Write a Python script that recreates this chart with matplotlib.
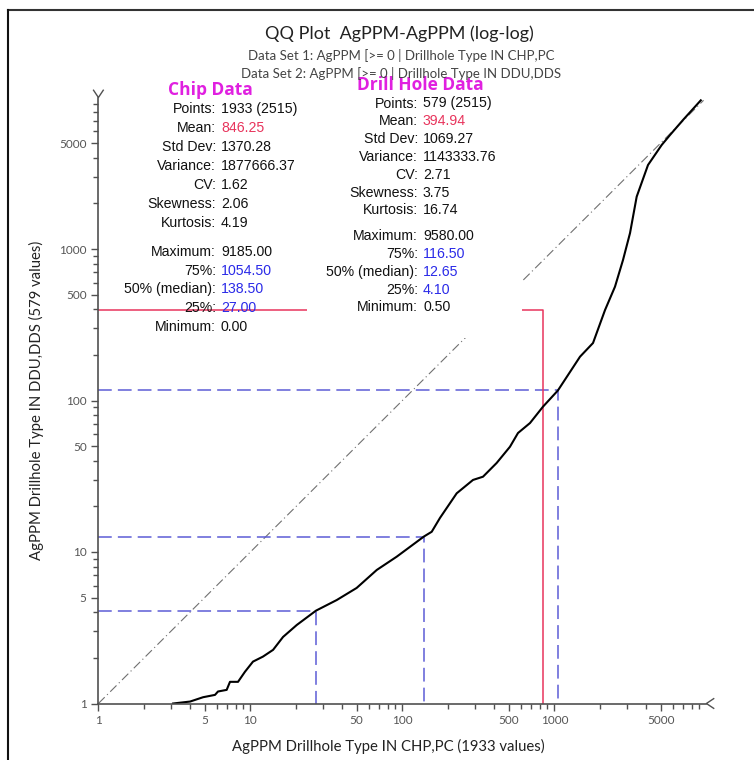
import numpy as np
import matplotlib.pyplot as plt
from matplotlib.ticker import FixedLocator, NullFormatter
from matplotlib.patches import Rectangle
from matplotlib.lines import Line2D

# Q-Q points (chip quantile, drill hole quantile)
qq_x = [3.10, 4.01, 4.88, 5.85, 6.12, 6.98, 7.34, 8.29, 9.21, 10.4, 12.1, 14.1,
        16.4, 20.2, 27.0, 37.0, 50.0, 67.8, 91.7, 138.5, 155.9, 176.8, 227.6,
        291.4, 339.0, 417.0, 510.0, 576.0, 691.0, 841.0, 1054.5, 1474.0, 1795.0,
        2153.0, 2504.0, 2827.0, 3145.0, 3478.0, 4129.0, 5080.0, 5762.0, 7015.0, 9185.0]
qq_y = [1.00, 1.03, 1.10, 1.14, 1.20, 1.23, 1.39, 1.39, 1.62, 1.89, 2.04, 2.26,
        2.75, 3.30, 4.10, 4.82, 5.79, 7.61, 9.31, 12.65, 13.6, 16.8, 24.4,
        29.9, 31.4, 38.7, 49.5, 61.0, 71.0, 91.0, 116.5, 194.6, 239.6,
        395.5, 564.0, 846.0, 1275.0, 2215.0, 3585.0, 4860.0, 5655.0, 7105.0, 9580.0]

# quartiles (25%, 50%, 75%) and means
chip_q = [27.00, 138.50, 1054.50]
drill_q = [4.10, 12.65, 116.50]
chip_mean = 846.25
drill_mean = 394.94
chip_max = 9185.0
drill_max = 9580.0

stat_labels = ['Points', 'Mean', 'Std Dev', 'Variance', 'CV', 'Skewness', 'Kurtosis',
               'Maximum', '75%', '50% (median)', '25%', 'Minimum']
chip_stats = ['1933 (2515)', '846.25', '1370.28', '1877666.37', '1.62', '2.06', '4.19',
              '9185.00', '1054.50', '138.50', '27.00', '0.00']
drill_stats = ['579 (2515)', '394.94', '1069.27', '1143333.76', '2.71', '3.75', '16.74',
               '9580.00', '116.50', '12.65', '4.10', '0.50']

W, H = 754, 760
def fx(px):
    return px / W
def fy(py):
    return 1 - py / H

fig = plt.figure(figsize=(W / 100, H / 100), dpi=100)
ax = fig.add_axes([fx(98.4), fy(703.5), 608 / W, 606 / H])
ax.set_xscale('log')
ax.set_yscale('log')
ax.set_xlim(1, 10000)
ax.set_ylim(1, 10000)

blue = '#5c5cd6'
red = '#e8345c'

# diagonal reference line
ax.plot([1, drill_max], [1, drill_max], color='#707070', lw=0.8, ls=(0, (8, 3, 1, 3)))

# quartile guide lines
for xq, yq in zip(chip_q, drill_q):
    ax.plot([1, xq, xq], [yq, yq, 1], color=blue, lw=1.1, ls=(0, (9, 4)))

# mean lines
ax.plot([1, chip_mean, chip_mean], [drill_mean, drill_mean, 1], color=red, lw=1.1)

# QQ curve
ax.plot(qq_x, qq_y, color='black', lw=1.5)

for s in ['top', 'right']:
    ax.spines[s].set_visible(False)
for s in ['left', 'bottom']:
    ax.spines[s].set_color('#505050')
    ax.spines[s].set_linewidth(1.2)

major = [1, 5, 10, 50, 100, 500, 1000, 5000]
minor = [m * d for d in [1, 10, 100, 1000] for m in [2, 3, 4, 6, 7, 8, 9]]
for axis in [ax.xaxis, ax.yaxis]:
    axis.set_major_locator(FixedLocator(major))
    axis.set_minor_locator(FixedLocator(minor))
    axis.set_minor_formatter(NullFormatter())
    axis.set_major_formatter(plt.FuncFormatter(lambda v, p: '%d' % v))
ax.tick_params(which='both', direction='out', colors='#505050', labelcolor='#555555',
               labelsize=8.5, width=1)
ax.tick_params(which='major', length=5)
ax.tick_params(which='minor', length=3.5)
for lab in ax.get_xticklabels() + ax.get_yticklabels():
    lab.set_fontfamily('Lato')

# chevrons at axis ends
ax.add_line(Line2D([-0.008, 0, 0.008], [1.012, 1, 1.012], transform=ax.transAxes,
                   color='#505050', lw=1, clip_on=False))
ax.add_line(Line2D([1.012, 1, 1.012], [0.008, 0, -0.008], transform=ax.transAxes,
                   color='#505050', lw=1, clip_on=False))

ax.set_xlabel('AgPPM Drillhole Type IN CHP,PC (1933 values)', fontfamily='Lato',
              fontsize=10.7, color='#222222')
ax.xaxis.set_label_coords((388 - 98.4) / 608, -(746 - 703.5) / 606)
ax.xaxis.label.set_va('center')
ax.set_ylabel('AgPPM Drillhole Type IN DDU,DDS (579 values)', fontfamily='Lato',
              fontsize=10.7, color='#222222')
ax.yaxis.set_label_coords(-(98.4 - 36) / 608, 0.5)
ax.yaxis.label.set_va('center')

# titles
fig.text(fx(399), fy(34), 'QQ Plot  AgPPM-AgPPM (log-log)', ha='center', va='center',
         fontfamily='Lato', fontsize=13, color='#222222')
fig.text(fx(401), fy(56), 'Data Set 1: AgPPM [>= 0 | Drillhole Type IN CHP,PC', ha='center',
         va='center', fontfamily='Lato', fontsize=9.5, color='#444444')
fig.text(fx(401), fy(74), 'Data Set 2: AgPPM [>= 0 | Drillhole Type IN DDU,DDS', ha='center',
         va='center', fontfamily='Lato', fontsize=9.5, color='#444444', zorder=5)

# white box behind drill hole stats
fig.add_artist(Rectangle((fx(307), fy(338)), (522 - 307) / W, (338 - 92) / H,
                         transform=fig.transFigure, facecolor='white', edgecolor='none',
                         zorder=1))

def stat_block(title, title_x, colon_x, y0, step, gap, values):
    fig.text(fx(title_x), fy(y0 - 19), title, ha='center', va='center',
             fontfamily='Open Sans', fontweight='bold', fontsize=12.5, color='#e020e0', zorder=3)
    y = y0
    for i, (lab, val) in enumerate(zip(stat_labels, values)):
        if i == 7:
            y += gap
        col = '#111111'
        if lab == 'Mean':
            col = red
        elif '%' in lab:
            col = '#2a2ae8'
        fig.text(fx(colon_x), fy(y), lab + ':', ha='right', va='center',
                 fontfamily='Liberation Sans', fontsize=10.2, color='#111111', zorder=3)
        fig.text(fx(colon_x + 5), fy(y), val, ha='left', va='center',
                 fontfamily='Liberation Sans', fontsize=10.2, color=col, zorder=3)
        y += step

stat_block('Chip Data', 210, 216, 109.3, 18.9, 10, chip_stats)
stat_block('Drill Hole Data', 420, 418, 103.5, 17.8, 8, drill_stats)

# outer frame (top and left edges visible)
fig.add_artist(Line2D([fx(8), 1], [fy(10), fy(10)], color='#333333', lw=1.5))
fig.add_artist(Line2D([fx(8), fx(8)], [fy(10), 0], color='#111111', lw=1.5))

fig.savefig('out.png', dpi=100)
